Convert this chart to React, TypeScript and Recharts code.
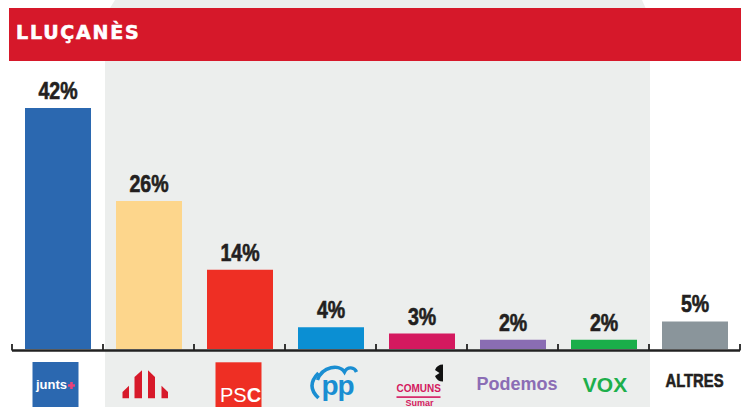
import { Bar, BarChart, Cell, LabelList, XAxis, YAxis } from "recharts";

const parties = ["junts", "ERC", "PSC", "PP", "Comuns", "Podemos", "VOX", "ALTRES"];
const shares = [42, 25.8, 13.8, 3.8, 2.7, 1.6, 1.6, 4.8];
const labels = ["42%", "26%", "14%", "4%", "3%", "2%", "2%", "5%"];
const title = "LLUÇANÈS";

const colors = ["#2B68B0", "#FDD68C", "#EE2F24", "#0B8FD3", "#D4195F", "#8A6DB3", "#1AAE4A", "#8A959B"];

const data = parties.map((party, i) => ({ party, share: shares[i], label: labels[i] }));

const SANS = "'Liberation Sans', Arial, sans-serif";
const INK = "#231F20";
const HALF = 45.5;

// condensed bold text: Liberation Sans squeezed horizontally, a thin stroke for weight
function Narrow({ x, y, size, squeeze, fill, children }: any) {
  return (
    <text
      transform={`translate(${x},${y}) scale(${squeeze},1)`}
      textAnchor="middle"
      fill={fill}
      stroke={fill}
      strokeWidth={0.6}
      fontSize={size}
      fontWeight={700}
      fontFamily={SANS}
    >
      {children}
    </text>
  );
}

function Logo({ name, cx, y }: { name: string; cx: number; y: number }) {
  // y is the plot bottom (349); offsets below are measured from it
  const Y = (abs: number) => y + (abs - 349);
  switch (name) {
    case "junts":
      return (
        <g>
          <rect x={cx - 25} y={Y(362)} width={46} height={50} fill="#2B68B0" />
          <text x={cx - 21.5} y={Y(389)} fill="#fff" fontSize={13} fontWeight={700} fontFamily={SANS}>junts</text>
          <path d={`M${cx + 10.5} ${Y(385.5)}h7M${cx + 14} ${Y(382)}v7`} stroke="#E9437B" strokeWidth={2.6} />
        </g>
      );
    case "ERC": {
      const c = "#D7192A";
      return (
        <g fill={c}>
          <polygon points={`${cx - 26},${Y(392)} ${cx - 19.5},${Y(385.7)} ${cx - 19.5},${Y(398.3)} ${cx - 26},${Y(398.3)}`} />
          <polygon points={`${cx - 14},${Y(377)} ${cx - 6.5},${Y(370.3)} ${cx - 6.5},${Y(398.3)} ${cx - 14},${Y(398.3)}`} />
          <polygon points={`${cx - 0.5},${Y(370.3)} ${cx + 6.5},${Y(377)} ${cx + 6.5},${Y(398.3)} ${cx - 0.5},${Y(398.3)}`} />
          <polygon points={`${cx + 13},${Y(385.7)} ${cx + 19.5},${Y(392)} ${cx + 19.5},${Y(398.3)} ${cx + 13},${Y(398.3)}`} />
        </g>
      );
    }
    case "PSC":
      return (
        <g>
          <rect x={cx - 24} y={Y(362.3)} width={46} height={50} fill="#EE2F24" />
          <text x={cx - 19.5} y={Y(401.7)} fill="#fff" fontSize={20} fontFamily={SANS}>
            PS<tspan fontWeight={700}>C</tspan>
          </text>
        </g>
      );
    case "PP": {
      const c = "#1A8ED2";
      return (
        <g>
          <path d={`M${cx - 12} ${Y(373)} Q${cx - 25} ${Y(386)} ${cx - 12} ${Y(398)}`} stroke={c} strokeWidth={3.6} fill="none" />
          <path
            d={`M${cx - 13} ${Y(380)} C${cx - 8} ${Y(366)} ${cx + 9} ${Y(364)} ${cx + 14} ${Y(372)} C${cx + 17} ${Y(366)} ${cx + 24} ${Y(367)} ${cx + 26} ${Y(372)}`}
            stroke={c}
            strokeWidth={3.4}
            fill="none"
          />
          <text x={cx - 9} y={Y(394.5)} fill={c} fontSize={28} fontWeight={700} fontFamily={SANS} letterSpacing={-1}>pp</text>
        </g>
      );
    }
    case "Comuns": {
      const c = "#D4195F";
      return (
        <g>
          <path
            d={`M${cx + 21.5} ${Y(364.5)} A8.5 8.5 0 0 0 ${cx + 13.5} ${Y(370)} L${cx + 18} ${Y(373)} L${cx + 13.5} ${Y(376)} A8.5 8.5 0 0 0 ${cx + 21.5} ${Y(381.5)} Z`}
            fill="#111"
          />
          <text x={cx - 25} y={Y(391.7)} fill={c} fontSize={10} fontWeight={700} fontFamily={SANS}>COMUNS</text>
          <rect x={cx - 25} y={Y(396.3)} width={44} height={1.6} fill={c} />
          <text x={cx - 16} y={Y(406)} fill={c} fontSize={9} fontWeight={700} fontFamily={SANS}>Sumar</text>
        </g>
      );
    }
    case "Podemos":
      return (
        <text x={cx + 4.5} y={Y(390)} textAnchor="middle" fill="#8B6DB5" fontSize={18} fontWeight={700} fontFamily={SANS}>Podemos</text>
      );
    case "VOX":
      return (
        <text x={cx + 1.5} y={Y(391.7)} textAnchor="middle" fill="#1DAF4B" fontSize={21} fontWeight={700} fontFamily={SANS}>VOX</text>
      );
    default:
      return (
        <Narrow x={cx} y={Y(386.7)} size={18.5} squeeze={0.8} fill={INK}>{name}</Narrow>
      );
  }
}

function PartyTick(props: any) {
  const { x, y, payload, index } = props;
  const last = index === parties.length - 1;
  const lineY = y + 1.5;
  return (
    <g>
      <line x1={x - HALF} x2={x + HALF} y1={lineY} y2={lineY} stroke="#222" strokeWidth={2.5} />
      <line x1={x - HALF} x2={x - HALF} y1={y - 5} y2={lineY} stroke="#222" strokeWidth={1.8} />
      {last && <line x1={x + HALF} x2={x + HALF} y1={y - 5} y2={lineY} stroke="#222" strokeWidth={1.8} />}
      <Logo name={payload.value} cx={x} y={y} />
    </g>
  );
}

function ShareLabel(props: any) {
  const { x, y, width, value } = props;
  return (
    <Narrow x={x + width / 2} y={y - 9} size={23} squeeze={0.85} fill={INK}>
      {value}
    </Narrow>
  );
}

export default function App() {
  return (
    <div style={{ position: "absolute", left: 0, top: 0, width: 748, height: 407, overflow: "hidden", background: "#fff" }}>
      <svg width={748} height={407} style={{ position: "absolute", left: 0, top: 0 }}>
        <polygon points="105,16 115,0 642,0 650,18 650,407 105,407" fill="#ECEEED" />
        <rect x={9} y={8} width={732} height={53} fill="#D6182A" />
        <text
          x={16}
          y={38.5}
          fill="#fff"
          stroke="#fff"
          strokeWidth={0.6}
          fontSize={19}
          fontWeight={700}
          fontFamily="'DejaVu Sans', sans-serif"
          letterSpacing={1.8}
        >
          {title}
        </text>
      </svg>
      <div style={{ position: "absolute", left: 0, top: 0 }}>
        <BarChart width={748} height={407} data={data} margin={{ top: 62, right: 8, bottom: 0, left: 12 }}>
          <YAxis hide domain={[0, 50]} />
          <XAxis
            dataKey="party"
            height={58}
            interval={0}
            axisLine={false}
            tickLine={false}
            tickSize={0}
            tickMargin={0}
            tick={(p: any) => <PartyTick {...p} />}
          />
          <Bar dataKey="share" barSize={66} isAnimationActive={false}>
            {data.map((d, i) => (
              <Cell key={d.party} fill={colors[i]} />
            ))}
            <LabelList dataKey="label" position="top" content={(p: any) => <ShareLabel {...p} />} />
          </Bar>
        </BarChart>
      </div>
    </div>
  );
}
